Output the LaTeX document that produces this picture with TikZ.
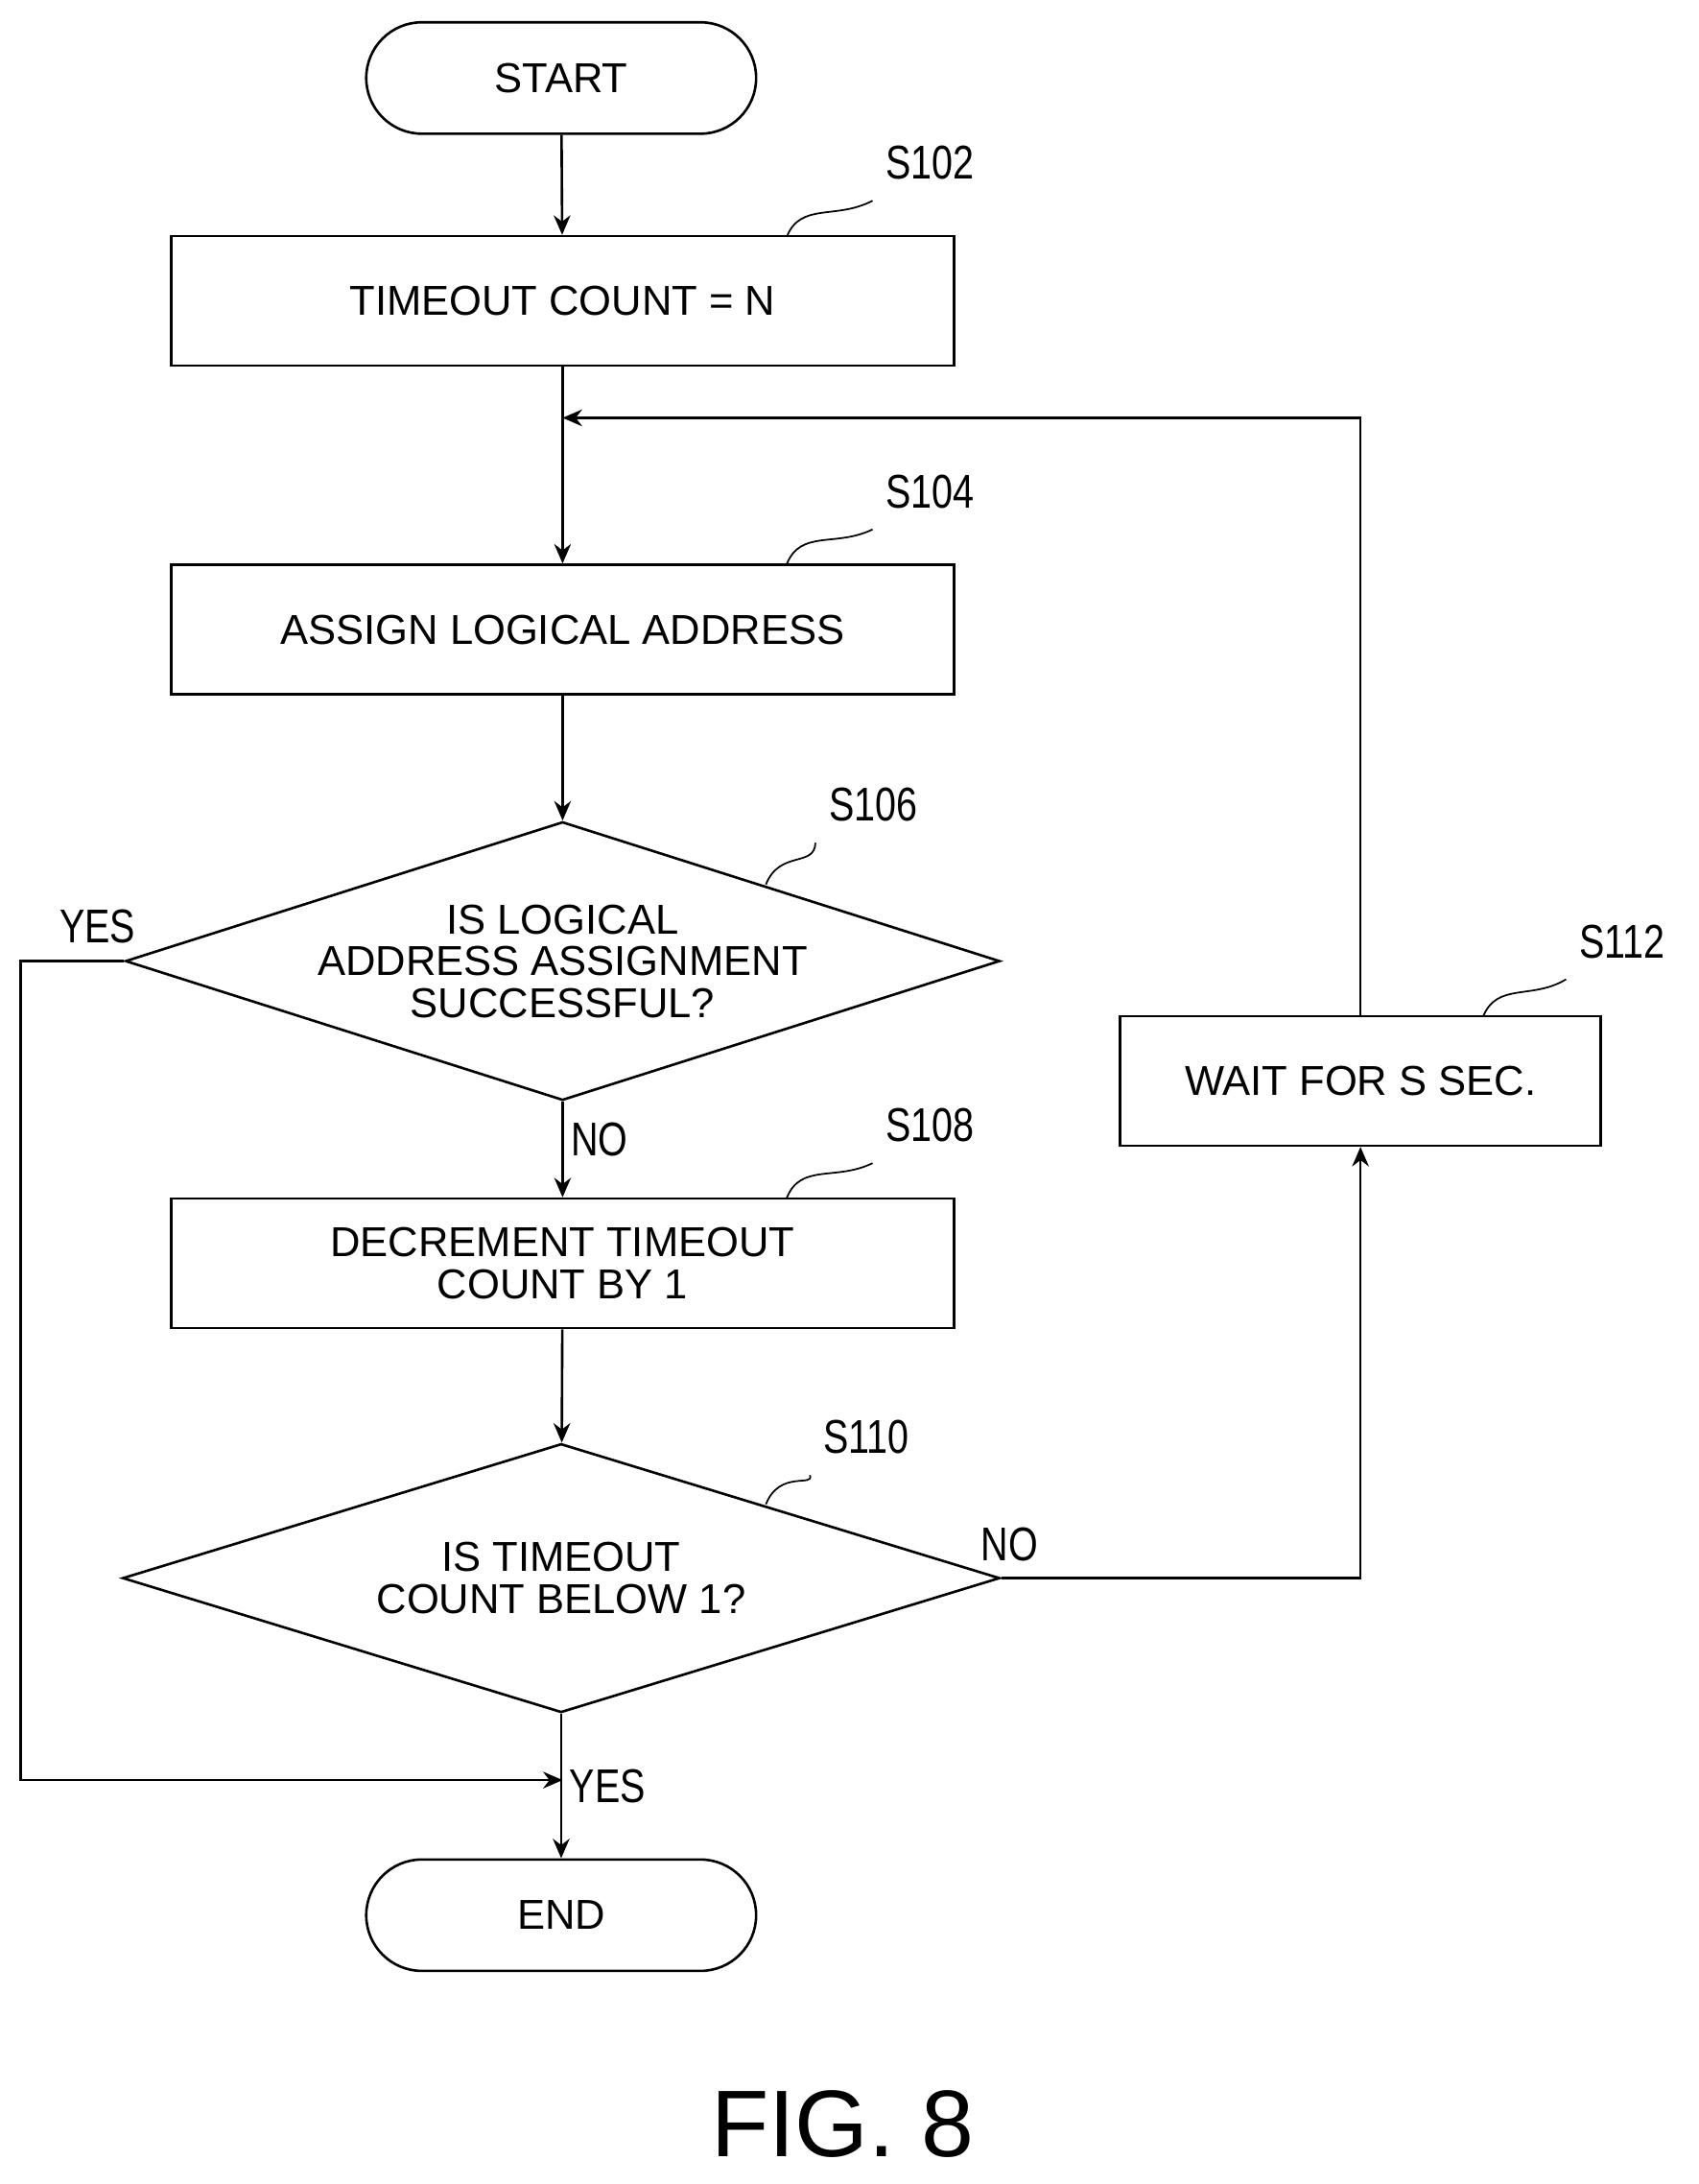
\documentclass[tikz,border=0pt]{standalone}
\usepackage{fontspec}
\setmainfont{Liberation Sans}
\usetikzlibrary{shapes.geometric,arrows.meta,calc}
\begin{document}
\begin{tikzpicture}[x=0.5pt,y=-0.5pt,
  every node/.style={font=\fontsize{15}{17}\selectfont, align=center},
  box/.style={draw, line width=0.9pt, minimum width=281pt, minimum height=46.5pt, inner sep=0pt},
  term/.style={draw, line width=0.9pt, rounded corners=20pt, minimum width=140pt, minimum height=40pt},
  dia/.style={draw, diamond, line width=0.9pt, inner sep=0pt, text width=10pt},
  lab/.style={font=\fontsize{17}{19}\selectfont, xscale=0.8},
  ar/.style={line width=0.9pt, -{Stealth[length=7pt,width=6pt]}},
  ln/.style={line width=0.9pt},
  lead/.style={line width=0.6pt}]
\useasboundingbox (0,0) rectangle (1220,1568);
\node[term] (start) at (403,56) {START};
\node[box] (s102) at (404,216) {TIMEOUT COUNT = N};
\node[box] (s104) at (404,452) {ASSIGN LOGICAL ADDRESS};
\node[dia, minimum width=314pt, minimum height=100pt] (s106) at (404,690) {};
\node at (404,690) {IS LOGICAL\\[-2pt]ADDRESS ASSIGNMENT\\[-2pt]SUCCESSFUL?};
\node[box] (s108) at (404,907) {DECREMENT TIMEOUT\\[-2pt]COUNT BY 1};
\node[dia, minimum width=315pt, minimum height=96.5pt] (s110) at (403,1133) {};
\node at (403,1133) {IS TIMEOUT\\[-2pt]COUNT BELOW 1?};
\node[box, minimum width=172.5pt] (s112) at (977,776) {WAIT FOR S SEC.};
\node[term] (end) at (403,1375) {END};
\node[font=\fontsize{34}{36}\selectfont] (fig) at (605,1525) {FIG. 8};

\coordinate (j1) at (404,300);
\coordinate (j2) at (404,1278);
\draw[ar] (start) -- (s102);
\draw[ln] (s102) -- (j1);
\draw[ar] (j1) -- (s104);
\draw[ar] (s104) -- (s106);
\draw[ar] (s106) -- node[right, lab, pos=0.4]{NO} (s108);
\draw[ar] (s108) -- (s110);
\draw[ar] (s110) -- node[right, lab, pos=0.5]{YES} (end);
\draw[ar] (s106.west) -- (15,690) -- (15,1278) -- (j2);
\node[lab, anchor=south] at (70,684) {YES};
\draw[ar] (s110.east) -- (977,1133) -- (s112);
\node[lab, anchor=south] at (725,1128) {NO};
\draw[ar] (s112) -- (977,300) -- (j1);

\node[lab] (l102) at (668,117) {S102};
\node[lab] (l104) at (668,353) {S104};
\node[lab] (l106) at (627,578) {S106};
\node[lab] (l108) at (668,808) {S108};
\node[lab] (l110) at (622,1032) {S110};
\node[lab] (l112) at (1165,676) {S112};
\foreach \x/\y/\l in {565/170/l102,565/405/l104,550/635/l106,565/860/l108,550/1080/l110,1065/730/l112}{
  \draw[lead] (\x,\y) .. controls (\x+10,\y-25) and (\x+35,\y-12) .. ($(\l.south west)+(-2pt,-4pt)$);
}
\end{tikzpicture}
\end{document}
